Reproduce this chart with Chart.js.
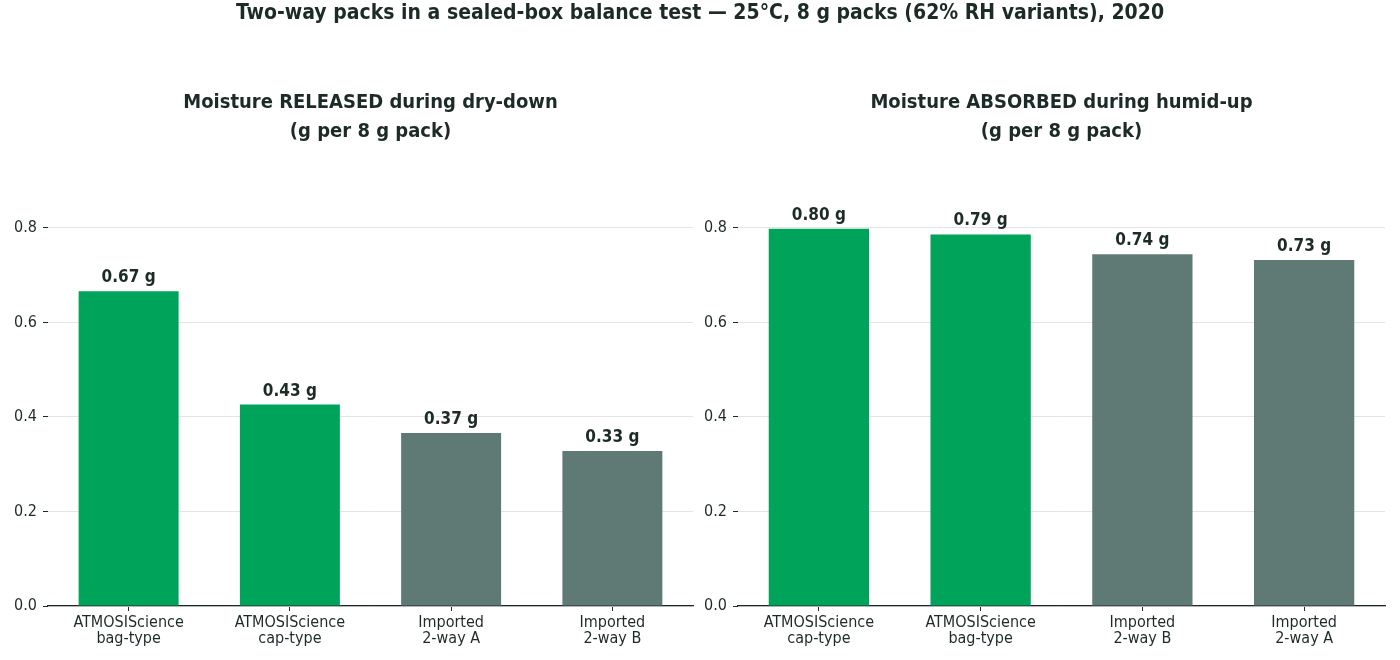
<!DOCTYPE html>
<html lang="en">
<head>
    <meta charset="UTF-8">
    <title>Two-way packs in a sealed-box balance test</title>
    <script src="https://cdn.jsdelivr.net/npm/chart.js"></script>
    <style>
        body { margin: 0; background: #fff; }
        #wrap { position: relative; width: 1400px; height: 660px; }
        #mainTitle {
            position: absolute; left: 0; top: 0; width: 1400px; text-align: center;
            font: bold 21px "Liberation Sans Narrow", "DejaVu Sans Condensed", sans-serif;
            color: #1d2b28; line-height: 24px; z-index: 2;
        }
        .box { position: absolute; top: 0; width: 700px; height: 660px; }
    </style>
</head>
<body>
<div id="wrap">
    <div id="mainTitle">Two-way packs in a sealed-box balance test — 25°C, 8 g packs (62% RH variants), 2020</div>
    <div class="box" style="left:0"><canvas id="releasedChart"></canvas></div>
    <div class="box" style="left:700px"><canvas id="absorbedChart"></canvas></div>
</div>
<script>
    const FONT = '"Liberation Sans Narrow", "DejaVu Sans Condensed", sans-serif';
    const TEXT = '#1d2b28';
    const GREEN = '#00a35a';
    const GREY = '#5f7a75';

    // dry-down panel
    const releasedCats = [['ATMOSIScience', 'bag-type'], ['ATMOSIScience', 'cap-type'], ['Imported', '2-way A'], ['Imported', '2-way B']];
    const releasedVals = [0.666, 0.426, 0.366, 0.328];
    const releasedColors = [GREEN, GREEN, GREY, GREY];

    // humid-up panel
    const absorbedCats = [['ATMOSIScience', 'cap-type'], ['ATMOSIScience', 'bag-type'], ['Imported', '2-way B'], ['Imported', '2-way A']];
    const absorbedVals = [0.798, 0.786, 0.744, 0.732];
    const absorbedColors = [GREEN, GREEN, GREY, GREY];

    const yTicks = [0, 0.2, 0.4, 0.6, 0.8];

    // writes "0.67 g" above each bar
    const valueLabels = {
        id: 'valueLabels',
        afterDatasetsDraw(chart) {
            const ctx = chart.ctx;
            const meta = chart.getDatasetMeta(0);
            ctx.save();
            ctx.font = 'bold 17px ' + FONT;
            ctx.fillStyle = TEXT;
            ctx.textAlign = 'center';
            ctx.textBaseline = 'bottom';
            meta.data.forEach((bar, i) => {
                const v = chart.data.datasets[0].data[i];
                ctx.fillText(v.toFixed(2) + ' g', bar.x, bar.y - 5);
            });
            ctx.restore();
        }
    };

    function makeChart(id, cats, vals, colors, title, axisWidth, padRight) {
        return new Chart(document.getElementById(id), {
            type: 'bar',
            data: {
                labels: cats,
                datasets: [{ data: vals, backgroundColor: colors, barPercentage: 0.62, categoryPercentage: 1 }]
            },
            options: {
                responsive: true,
                maintainAspectRatio: false,
                animation: false,
                layout: { padding: { top: 88, bottom: 9, left: 0, right: padRight } },
                plugins: {
                    legend: { display: false },
                    tooltip: { enabled: false },
                    title: {
                        display: true, fullSize: false, text: title, color: TEXT,
                        font: { family: FONT, size: 20, weight: 'bold', lineHeight: 1.45 },
                        padding: { top: 0, bottom: 44 }
                    }
                },
                scales: {
                    x: {
                        grid: { display: true, drawOnChartArea: false, offset: false, tickLength: 5, tickColor: TEXT },
                        border: { display: true, color: TEXT, width: 1.2 },
                        ticks: { color: TEXT, font: { family: FONT, size: 16, lineHeight: 1.0 }, padding: 4, maxRotation: 0, autoSkip: false }
                    },
                    y: {
                        min: 0, max: 0.88,
                        afterBuildTicks: axis => { axis.ticks = yTicks.map(v => ({ value: v })); },
                        afterFit: axis => { axis.width = axisWidth; },
                        grid: { color: '#e4e4e4', tickLength: 5, tickColor: TEXT },
                        border: { display: false },
                        ticks: { color: TEXT, font: { family: FONT, size: 16 }, padding: 6, callback: v => v.toFixed(1) }
                    }
                }
            },
            plugins: [valueLabels]
        });
    }

    makeChart('releasedChart', releasedCats, releasedVals, releasedColors,
        ['Moisture RELEASED during dry-down', '(g per 8 g pack)'], 48, 7);
    makeChart('absorbedChart', absorbedCats, absorbedVals, absorbedColors,
        ['Moisture ABSORBED during humid-up', '(g per 8 g pack)'], 38, 15);
</script>
</body>
</html>
